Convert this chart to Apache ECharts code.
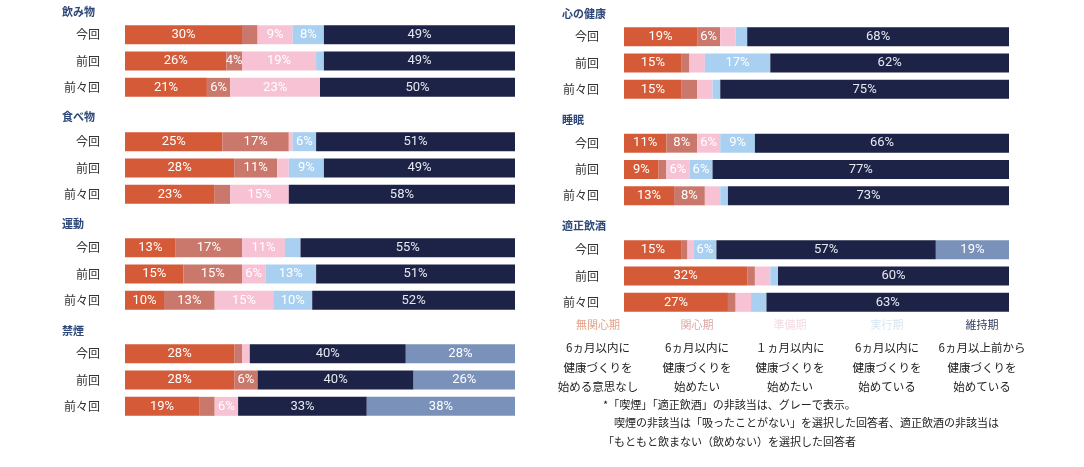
<!DOCTYPE html>
<html>
<head>
<meta charset="utf-8">
<script src="https://cdn.jsdelivr.net/npm/echarts@6/dist/echarts.min.js"></script>
<style>
html,body{margin:0;padding:0;background:#fff;}
#chart{width:1084px;height:467px;}
</style>
</head>
<body>
<div id="chart"></div>
<script>
// ---- data ----
const rows = ['今回', '前回', '前々回'];
const stages = ['無関心期', '関心期', '準備期', '実行期', '維持期', '非該当'];
const panelTitles = ['飲み物', '食べ物', '運動', '禁煙', '心の健康', '睡眠', '適正飲酒'];

// values per stage, rows in order 今回, 前回, 前々回 (%)
const drink   = [[30, 26, 21], [4, 4, 6],    [9, 19, 23], [8, 2, 0],   [49, 49, 50], [0, 0, 0]];
const food    = [[25, 28, 23], [17, 11, 4],  [1, 3, 15],  [6, 9, 0],   [51, 49, 58], [0, 0, 0]];
const exercise= [[13, 15, 10], [17, 15, 13], [11, 6, 15], [4, 13, 10], [55, 51, 52], [0, 0, 0]];
const smoking = [[28, 28, 19], [2, 6, 4],    [2, 0, 6],   [0, 0, 0],   [40, 40, 33], [28, 26, 38]];
const mental  = [[19, 15, 15], [6, 2, 4],    [4, 4, 4],   [3, 17, 2],  [68, 62, 75], [0, 0, 0]];
const sleep   = [[11, 9, 13],  [8, 2, 8],    [6, 6, 4],   [9, 6, 2],   [66, 77, 73], [0, 0, 0]];
const alcohol = [[15, 32, 27], [1.5, 2, 2],  [1.5, 4, 4], [6, 2, 4],   [57, 60, 63], [19, 0, 0]];
const panelData = [drink, food, exercise, smoking, mental, sleep, alcohol];

// segments below 5% carry no printed label, except these ones (panel, stage, row)
const extraLabels = [[0, 1, 1]];

// legend texts
const legendHeads = ['無関心期', '関心期', '準備期', '実行期', '維持期'];
const legendBodies = [
  '6ヵ月以内に\n健康づくりを\n始める意思なし',
  '6ヵ月以内に\n健康づくりを\n始めたい',
  '１ヵ月以内に\n健康づくりを\n始めたい',
  '6ヵ月以内に\n健康づくりを\n始めている',
  '6ヵ月以上前から\n健康づくりを\n始めている'
];
const footnotes = [
  '*「喫煙」「適正飲酒」の非該当は、グレーで表示。',
  '　喫煙の非該当は「吸ったことがない」を選択した回答者、適正飲酒の非該当は',
  '「もともと飲まない（飲めない）を選択した回答者'
];

// ---- styling / layout ----
const colors = ['#d45a38', '#c9786b', '#f8c2d5', '#a9d0f1', '#1d2346', '#7a92ba'];
const headColors = ['#e3a186', '#d9a7a5', '#f3dbe4', '#d6e5f2', '#34405e'];
const FONT = '"Noto Sans CJK JP", "Noto Sans", sans-serif';
const LABEL_FONT = 'Roboto, "Noto Sans", sans-serif';

const layout = [
  {left: 125, width: 390, top: 21.5, tx: 57, ty: 1},
  {left: 125, width: 390, top: 128.5, tx: 57, ty: 106},
  {left: 125, width: 390, top: 234.5, tx: 57, ty: 213},
  {left: 125, width: 390, top: 340.5, tx: 57, ty: 320},
  {left: 624, width: 385, top: 23.5, tx: 557, ty: 3},
  {left: 624, width: 385, top: 130, tx: 557, ty: 109},
  {left: 624, width: 385, top: 236.5, tx: 557, ty: 215}
];

const grids = [], xAxes = [], yAxes = [], series = [], titles = [];
layout.forEach((L, p) => {
  grids.push({left: L.left, width: L.width, top: L.top, height: 79});
  xAxes.push({gridIndex: p, type: 'value', min: 0, max: 100, show: false});
  yAxes.push({
    gridIndex: p, type: 'category', data: rows, inverse: true,
    axisLine: {show: false}, axisTick: {show: false},
    axisLabel: {color: '#333', fontSize: 12, fontFamily: FONT, margin: 25}
  });
  titles.push({
    text: panelTitles[p], left: L.tx, top: L.ty,
    textStyle: {color: '#2c4778', fontSize: 11, fontWeight: 'bold', fontFamily: FONT}
  });
  stages.forEach((st, s) => {
    series.push({
      type: 'bar', name: st, stack: 'p' + p,
      xAxisIndex: p, yAxisIndex: p,
      barWidth: 19,
      data: panelData[p][s],
      itemStyle: {color: colors[s]},
      label: {
        show: true, position: 'inside',
        color: s === 4 ? '#e6e8f0' : '#fff', fontSize: 13, fontFamily: LABEL_FONT,
        formatter: (d) => {
          const extra = extraLabels.some(e => e[0] === p && e[1] === s && e[2] === d.dataIndex);
          return (d.value >= 5 || extra) ? d.value + '%' : '';
        }
      },
      emphasis: {disabled: true}
    });
  });
});

// legend (custom, centered columns) & footnote as graphic text
const legendX = [598, 697, 790, 887, 982];
const graphics = [];
legendHeads.forEach((h, i) => {
  graphics.push({
    type: 'text', x: legendX[i], y: 319,
    style: {text: h, fill: headColors[i], font: '11px ' + FONT, textAlign: 'center'}
  });
  graphics.push({
    type: 'text', x: legendX[i], y: 338,
    style: {text: legendBodies[i], fill: '#222', font: '11.5px ' + FONT, textAlign: 'center', lineHeight: 19.5}
  });
});
footnotes.forEach((t, i) => {
  graphics.push({
    type: 'text', x: 603, y: 399 + i * 18.5,
    style: {text: t, fill: '#222', font: '11px ' + FONT}
  });
});

const chart = echarts.init(document.getElementById('chart'), null, {renderer: 'canvas'});
chart.setOption({
  animation: false,
  backgroundColor: '#fff',
  title: titles,
  grid: grids,
  xAxis: xAxes,
  yAxis: yAxes,
  series: series,
  graphic: graphics
});
</script>
</body>
</html>
